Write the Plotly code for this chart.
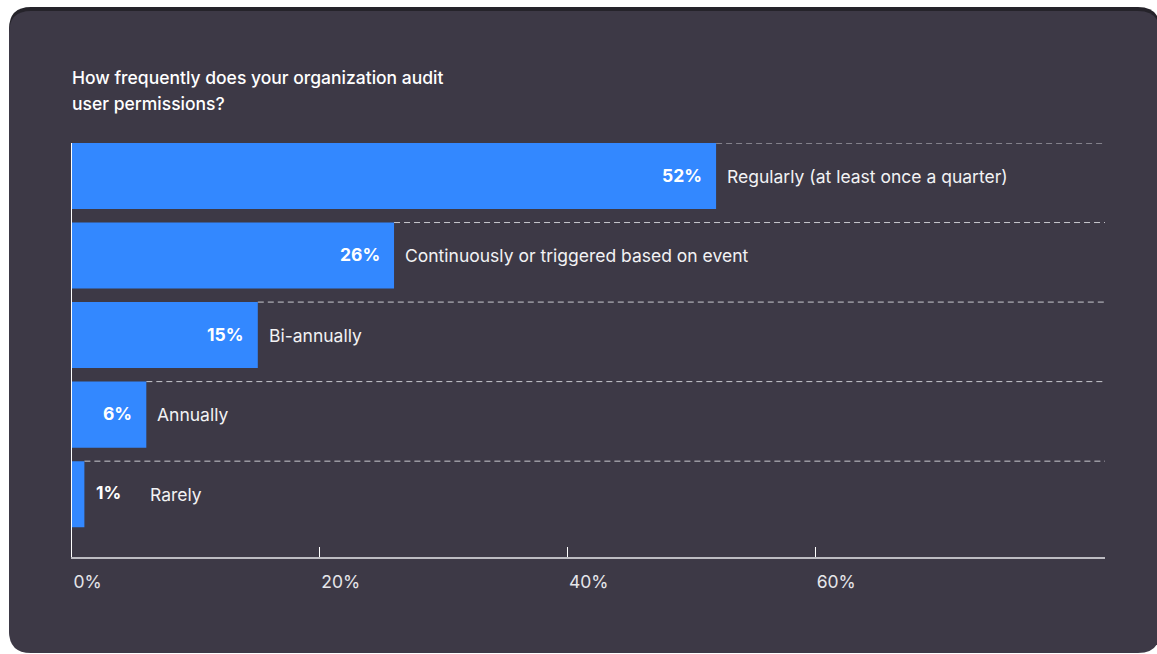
import plotly.graph_objects as go

# Survey results: share of respondents per audit frequency
categories = [
    "Regularly (at least once a quarter)",
    "Continuously or triggered based on event",
    "Bi-annually",
    "Annually",
    "Rarely",
]
values = [52, 26, 15, 6, 1]
tick_values = [0, 20, 40, 60]
tick_labels = ["0%", "20%", "40%", "60%"]
title_lines = ["How frequently does your organization audit", "user permissions?"]

W, H = 1157, 654
CARD = "#3d3946"
BAR = "#3388ff"
FONT = "Inter"
X_MAX = 83.4
BAR_W = 0.83


def px(x):
    return x / W


def py(y):
    return 1 - y / H


def rounded_rect(x0, y0, x1, y1, r):
    """Rounded rectangle path in paper coordinates from pixel extents."""
    rx, ry = r / W, r / H
    X0, X1 = px(x0), px(x1)
    Y0, Y1 = py(y1), py(y0)  # bottom, top
    return (
        f"M {X0 + rx},{Y1} L {X1 - rx},{Y1} Q {X1},{Y1} {X1},{Y1 - ry} "
        f"L {X1},{Y0 + ry} Q {X1},{Y0} {X1 - rx},{Y0} "
        f"L {X0 + rx},{Y0} Q {X0},{Y0} {X0},{Y0 + ry} "
        f"L {X0},{Y1 - ry} Q {X0},{Y1} {X0 + rx},{Y1} Z"
    )


pos = list(range(len(categories)))

fig = go.Figure(
    go.Bar(
        x=values,
        y=pos,
        orientation="h",
        width=BAR_W,
        marker=dict(color=BAR, line=dict(width=0)),
        hoverinfo="skip",
    )
)

shapes = [
    # card shadow edge and card body
    dict(type="path", xref="paper", yref="paper", layer="below",
         path=rounded_rect(9, 7, 1160, 650, 22), fillcolor="#25232a", line=dict(width=0)),
    dict(type="path", xref="paper", yref="paper", layer="below",
         path=rounded_rect(9, 11, 1160, 653, 22), fillcolor=CARD, line=dict(width=0)),
]

annotations = []
for i, (cat, v) in enumerate(zip(categories, values)):
    # dashed guide along the top edge of each bar, from its end to the axis end
    shapes.append(dict(
        type="line", xref="x", yref="y", layer="below",
        x0=v, x1=X_MAX, y0=i - BAR_W / 2, y1=i - BAR_W / 2,
        line=dict(color="#c9c9cf", width=1, dash="6px,4px"),
    ))
    small = v < 3
    annotations.append(dict(
        x=v, y=i, xref="x", yref="y", text=f"<b>{v}%</b>", showarrow=False,
        xanchor="left" if small else "right", xshift=10 if small else -12,
        yshift=2 if small else 1,
        font=dict(family=FONT, size=17.5, color="#ffffff"),
    ))
    annotations.append(dict(
        x=v, y=i, xref="x", yref="y", text=cat, showarrow=False,
        xanchor="left", xshift=64 if small else 9,
        font=dict(family=FONT, size=17.5, color="#f2f2f4"),
    ))

for k, line in enumerate(title_lines):
    annotations.append(dict(
        x=px(70), y=py(77 + 26 * k), xref="paper", yref="paper", text=line,
        showarrow=False, xanchor="left", yanchor="middle",
        font=dict(family=FONT, size=17.5, color="#ffffff", weight=500),
    ))

fig.update_layout(
    width=W, height=H,
    margin=dict(l=0, r=0, t=0, b=0),
    paper_bgcolor="#ffffff",
    plot_bgcolor="rgba(0,0,0,0)",
    showlegend=False,
    shapes=shapes,
    annotations=annotations,
    xaxis=dict(
        domain=[px(72), px(1105)],
        range=[0, X_MAX],
        showgrid=False, zeroline=False,
        showline=True, linecolor="#bdbcc2", linewidth=2,
        ticks="inside", ticklen=10, tickcolor="#ffffff", tickwidth=1,
        tickvals=tick_values, ticktext=tick_labels,
        ticklabelposition="outside right",
        ticklabelstandoff=8,
        tickfont=dict(family=FONT, size=17.5, color="#e6e6ea"),
        fixedrange=True,
    ),
    yaxis=dict(
        domain=[py(557), py(143)],
        range=[4.79, -BAR_W / 2],
        showgrid=False, zeroline=False, showticklabels=False, ticks="",
        showline=True, linecolor="#ffffff", linewidth=1,
        fixedrange=True,
    ),
)

fig.write_html("out.html")
